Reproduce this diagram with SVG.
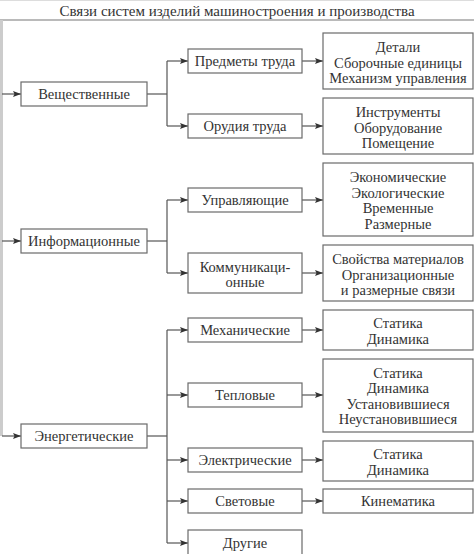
<svg xmlns="http://www.w3.org/2000/svg" width="474" height="554" viewBox="0 0 474 554">
<style>
.box{fill:#fff;stroke:#6a6a6a;stroke-width:1.2}
.t{font-family:"Liberation Serif","DejaVu Serif",serif;font-size:14.5px;fill:#333;text-anchor:middle}
.ln{fill:none;stroke:#555;stroke-width:1.2}
</style>
<defs>
<marker id="ah" markerWidth="8" markerHeight="6" refX="8" refY="3" orient="auto" markerUnits="userSpaceOnUse">
<path d="M0,0 L8,3 L0,6 L1.5,3 Z" fill="#333"/>
</marker>
</defs>
<rect x="0" y="0" width="474" height="554" fill="#fff"/>
<line x1="0" y1="0.5" x2="474" y2="0.5" stroke="#ddd" stroke-width="1"/>
<text class="t" x="237" y="16" style="font-size:15px">Связи систем изделий машиностроения и производства</text>
<line x1="0" y1="20" x2="474" y2="20" stroke="#777" stroke-width="1.2"/>
<g id="connectors">
<line x1="1.5" y1="20" x2="1.5" y2="436" stroke="#ccc" stroke-width="3"/>
<line class="ln" x1="2" y1="94" x2="21" y2="94" marker-end="url(#ah)"/>
<line class="ln" x1="2" y1="241" x2="21" y2="241" marker-end="url(#ah)"/>
<line class="ln" x1="2" y1="436" x2="21" y2="436" marker-end="url(#ah)"/>
<path class="ln" d="M147,94 H167"/>
<path class="ln" d="M167,61 V126"/>
<path class="ln" d="M167,61 H188" marker-end="url(#ah)"/>
<path class="ln" d="M167,126 H188" marker-end="url(#ah)"/>
<path class="ln" d="M147,241 H167"/>
<path class="ln" d="M167,200 V273"/>
<path class="ln" d="M167,200 H188" marker-end="url(#ah)"/>
<path class="ln" d="M167,273 H188" marker-end="url(#ah)"/>
<path class="ln" d="M147,436 H167"/>
<path class="ln" d="M167,330 V543"/>
<path class="ln" d="M167,330 H188" marker-end="url(#ah)"/>
<path class="ln" d="M167,395 H188" marker-end="url(#ah)"/>
<path class="ln" d="M167,460 H188" marker-end="url(#ah)"/>
<path class="ln" d="M167,501 H188" marker-end="url(#ah)"/>
<path class="ln" d="M167,543 H188" marker-end="url(#ah)"/>
<path class="ln" d="M302,61 H323" marker-end="url(#ah)"/>
<path class="ln" d="M302,126 H323" marker-end="url(#ah)"/>
<path class="ln" d="M302,200 H323" marker-end="url(#ah)"/>
<path class="ln" d="M302,273 H323" marker-end="url(#ah)"/>
<path class="ln" d="M302,330 H323" marker-end="url(#ah)"/>
<path class="ln" d="M302,395 H323" marker-end="url(#ah)"/>
<path class="ln" d="M302,460 H323" marker-end="url(#ah)"/>
<path class="ln" d="M302,501 H323" marker-end="url(#ah)"/>
</g>
<g id="n-vesh"><rect class="box" x="21" y="82" width="126" height="24"/><text class="t" x="84" y="99">Вещественные</text></g>
<g id="n-info"><rect class="box" x="21" y="229" width="126" height="24"/><text class="t" x="84" y="246">Информационные</text></g>
<g id="n-energ"><rect class="box" x="21" y="424" width="126" height="24"/><text class="t" x="84" y="441">Энергетические</text></g>
<g id="n-predm"><rect class="box" x="188" y="49" width="114" height="24"/><text class="t" x="245" y="66">Предметы труда</text></g>
<g id="n-orud"><rect class="box" x="188" y="114" width="114" height="24"/><text class="t" x="245" y="131">Орудия труда</text></g>
<g id="n-uprav"><rect class="box" x="188" y="188" width="114" height="24"/><text class="t" x="245" y="205">Управляющие</text></g>
<g id="n-komm"><rect class="box" x="188" y="253" width="114" height="40"/><text class="t" x="245" y="271.5">Коммуникаци-</text><text class="t" x="245" y="287">онные</text></g>
<g id="n-mech"><rect class="box" x="188" y="318" width="114" height="24"/><text class="t" x="245" y="335">Механические</text></g>
<g id="n-tepl"><rect class="box" x="188" y="383" width="114" height="24"/><text class="t" x="245" y="400">Тепловые</text></g>
<g id="n-elek"><rect class="box" x="188" y="448" width="114" height="24"/><text class="t" x="245" y="465">Электрические</text></g>
<g id="n-svet"><rect class="box" x="188" y="489" width="114" height="24"/><text class="t" x="245" y="506">Световые</text></g>
<g id="n-drug"><rect class="box" x="188" y="530" width="114" height="30"/><text class="t" x="245" y="548">Другие</text></g>
<g id="r-detali"><rect class="box" x="323" y="33" width="150" height="56"/><text class="t" x="398" y="52">Детали</text><text class="t" x="398" y="67.5">Сборочные единицы</text><text class="t" x="398" y="83">Механизм управления</text></g>
<g id="r-instr"><rect class="box" x="323" y="98" width="150" height="56"/><text class="t" x="398" y="117">Инструменты</text><text class="t" x="398" y="132.5">Оборудование</text><text class="t" x="398" y="148">Помещение</text></g>
<g id="r-econ"><rect class="box" x="323" y="163" width="150" height="73"/><text class="t" x="398" y="182">Экономические</text><text class="t" x="398" y="197.5">Экологические</text><text class="t" x="398" y="213">Временные</text><text class="t" x="398" y="228.5">Размерные</text></g>
<g id="r-svoj"><rect class="box" x="323" y="245" width="150" height="56"/><text class="t" x="398" y="264">Свойства материалов</text><text class="t" x="398" y="279.5">Организационные</text><text class="t" x="398" y="295">и размерные связи</text></g>
<g id="r-stat1"><rect class="box" x="323" y="310" width="150" height="40"/><text class="t" x="398" y="328">Статика</text><text class="t" x="398" y="343.5">Динамика</text></g>
<g id="r-stat2"><rect class="box" x="323" y="359" width="150" height="73"/><text class="t" x="398" y="377.5">Статика</text><text class="t" x="398" y="393">Динамика</text><text class="t" x="398" y="408.5">Установившиеся</text><text class="t" x="398" y="424">Неустановившиеся</text></g>
<g id="r-stat3"><rect class="box" x="323" y="441" width="150" height="40"/><text class="t" x="398" y="459">Статика</text><text class="t" x="398" y="474.5">Динамика</text></g>
<g id="r-kin"><rect class="box" x="323" y="489" width="150" height="24"/><text class="t" x="398" y="506">Кинематика</text></g>
</svg>
